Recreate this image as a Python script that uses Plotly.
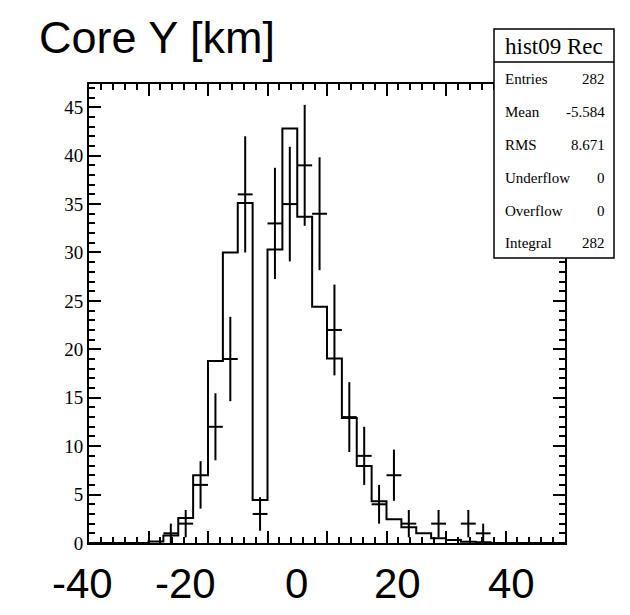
import numpy as np
import plotly.graph_objects as go

# ---- data ----
bin_low = -40.0
bin_width = 2.5
# Reference histogram (step outline), 32 bins from -40 to 40
step_values = [0, 0, 0, 0, 0.15, 0.78, 2.57, 7.0, 18.8, 30.0, 35.1, 4.45,
               30.3, 42.8, 33.7, 24.4, 19.06, 12.9, 7.95, 4.3, 2.44, 1.62,
               1.0, 0.48, 0.31, 0.14, 0.08, 0, 0, 0, 0, 0]
# Reconstructed counts (points with error bars)
counts = [0, 0, 0, 0, 0, 1, 2, 6, 12, 19, 36, 3,
          33, 35, 39, 34, 22, 13, 9, 4, 7, 2,
          0, 2, 0, 2, 1, 0, 0, 0, 0, 0]
title_text = "Core Y [km]"
big_labels = ["-40", "-20", "0", "20", "40"]
stats_title = "hist09 Rec"
stats_names = ["Entries", "Mean", "RMS", "Underflow", "Overflow", "Integral"]
stats_vals = ["282", "-5.584", "8.671", "0", "0", "282"]

# ---- geometry helpers (pixel -> paper) ----
W, H = 630, 615
L, R, T, B = 89, 65, 84, 72
PW, PH = W - L - R, H - T - B
def px(x):
    return (x - L) / PW
def py(y):
    return (H - B - y) / PH

n = len(step_values)
edges = bin_low + bin_width * np.arange(n + 1)
centers = edges[:-1] + bin_width / 2

step_x = list(edges[:-1]) + [edges[-1]]
step_y = list(step_values) + [step_values[-1]]

cnt = np.array(counts, dtype=float)
mask = cnt > 0

fig = go.Figure()
fig.add_trace(go.Scatter(
    x=step_x, y=step_y, mode="lines", line=dict(shape="hv", color="black", width=2),
    hoverinfo="skip", showlegend=False))
fig.add_trace(go.Scatter(
    x=centers[mask], y=cnt[mask], mode="markers",
    marker=dict(size=1, color="black"),
    error_y=dict(type="data", array=np.sqrt(cnt[mask]), width=0, thickness=2, color="black"),
    error_x=dict(type="constant", value=bin_width / 2, width=0, thickness=2, color="black"),
    showlegend=False))

axis_common = dict(
    showline=True, linecolor="black", linewidth=2, mirror="allticks",
    ticks="inside", ticklen=12, tickwidth=1.5, tickcolor="black",
    showgrid=False, zeroline=False,
    tickfont=dict(family="Liberation Serif", size=19, color="black"),
)
fig.update_layout(
    width=W, height=H,
    margin=dict(l=L, r=R, t=T, b=B, pad=0),
    paper_bgcolor="white", plot_bgcolor="white",
    xaxis=dict(range=[-40, 40], dtick=10, tick0=-40, showticklabels=False,
               minor=dict(dtick=2, ticklen=6, tickwidth=1.5, tickcolor="black", ticks="inside"),
               **axis_common),
    yaxis=dict(range=[0, 47.4], dtick=5, tick0=0,
               minor=dict(dtick=1, ticklen=6, tickwidth=1.5, tickcolor="black", ticks="inside"),
               **axis_common),
)

shapes = []
# stats box
shapes.append(dict(type="rect", xref="paper", yref="paper", layer="above",
                   x0=px(494), x1=px(614), y0=py(258), y1=py(29),
                   line=dict(color="black", width=1.5), fillcolor="white"))
shapes.append(dict(type="line", xref="paper", yref="paper", layer="above",
                   x0=px(494), x1=px(614), y0=py(62), y1=py(62),
                   line=dict(color="black", width=1.5)))
fig.update_layout(shapes=shapes)

ann = []
ann.append(dict(text=title_text, xref="paper", yref="paper", x=px(37), y=py(37.4),
                xanchor="left", yanchor="middle", showarrow=False,
                font=dict(family="Liberation Sans", size=45, color="black")))
big_centers = [82.5, 185, 296, 397.5, 511]
for lab, cx in zip(big_labels, big_centers):
    ann.append(dict(text=lab, xref="paper", yref="paper", x=px(cx), y=py(583.4),
                    xanchor="center", yanchor="middle", showarrow=False,
                    font=dict(family="Liberation Sans", size=42, color="black")))
ann.append(dict(text=stats_title, xref="paper", yref="paper", x=px(554), y=py(46),
                xanchor="center", yanchor="middle", showarrow=False,
                font=dict(family="Liberation Serif", size=23, color="black")))
row_y = [79, 112, 145, 178, 211, 243]
for name, val, ry in zip(stats_names, stats_vals, row_y):
    ann.append(dict(text=name, xref="paper", yref="paper", x=px(503), y=py(ry),
                    xanchor="left", yanchor="middle", showarrow=False,
                    font=dict(family="Liberation Serif", size=15, color="black")))
    ann.append(dict(text=val, xref="paper", yref="paper", x=px(607), y=py(ry),
                    xanchor="right", yanchor="middle", showarrow=False,
                    font=dict(family="Liberation Serif", size=15, color="black")))
fig.update_layout(annotations=ann)

fig.write_html("out.html")
